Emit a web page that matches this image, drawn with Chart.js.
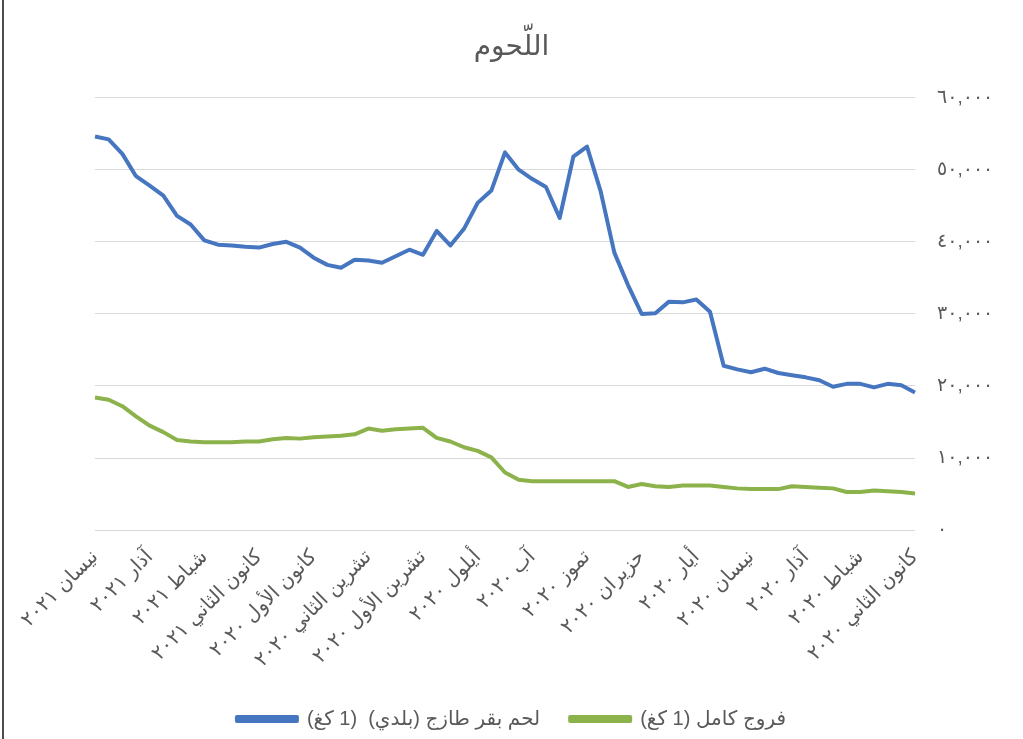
<!DOCTYPE html>
<html lang="ar">
<head>
<meta charset="utf-8">
<script src="https://cdn.jsdelivr.net/npm/chart.js"></script>
<style>
  body{margin:0;background:#fff;}
  #wrap{position:relative;width:1023px;height:739px;}
  #edge{position:absolute;left:2px;top:0;width:2px;height:739px;background:#4a4f4a;}
  canvas{display:block;}
</style>
</head>
<body>
<div id="wrap">
  <canvas id="grafico" width="1023" height="739"></canvas>
  <div id="edge"></div>
</div>
<script>
// months shown on the axis, oldest first (axis is reversed, right to left)
const months = [
  'كانون الثاني ٢٠٢٠','شباط ٢٠٢٠','آذار ٢٠٢٠','نيسان ٢٠٢٠','أيار ٢٠٢٠','حزيران ٢٠٢٠',
  'تموز ٢٠٢٠','آب ٢٠٢٠','أيلول ٢٠٢٠','تشرين الأول ٢٠٢٠','تشرين الثاني ٢٠٢٠','كانون الأول ٢٠٢٠',
  'كانون الثاني ٢٠٢١','شباط ٢٠٢١','آذار ٢٠٢١','نيسان ٢٠٢١'
];
const perMonth = 4; // readings between two month labels

// لحم بقر طازج (بلدي) - oldest first
const beef = [
  19100,20100,20300,19800,20300,20300,19900,20800,21200,21500,
  21800,22400,21900,22300,22800,30300,32000,31600,31700,30100,
  30000,34000,38500,47000,53200,51800,43300,47600,48700,50000,
  52400,47100,45400,41800,39500,41500,38200,38900,38000,37100,
  37400,37500,36400,36800,37800,39200,40000,39700,39200,39300,
  39500,39600,40200,42400,43600,46400,47800,49100,52200,54200,
  54600
];
// فروج كامل - oldest first
const chicken = [
  5100,5300,5400,5500,5300,5300,5800,5900,6000,6100,
  5700,5700,5700,5800,6000,6200,6200,6200,6000,6100,
  6400,6000,6800,6800,6800,6800,6800,6800,6800,7000,
  8000,10100,11000,11500,12300,12800,14200,14100,14000,13800,
  14100,13300,13100,13000,12900,12700,12800,12600,12300,12300,
  12200,12200,12200,12300,12500,13600,14500,15800,17200,18100,
  18400
];
const yTicks = ['٠','١٠,٠٠٠','٢٠,٠٠٠','٣٠,٠٠٠','٤٠,٠٠٠','٥٠,٠٠٠','٦٠,٠٠٠'];

const labels = beef.map((v,i)=> i%perMonth===0 ? months[i/perMonth] : '');

const FONT = "'Liberation Sans','DejaVu Sans',sans-serif";
const GREY = '#595959';

new Chart(grafico, {
  type:'line',
  data:{
    labels,
    datasets:[
      {
        label:'لحم بقر طازج (بلدي)  (1 كغ)',
        data:beef,
        borderColor:'#4776c0',
        backgroundColor:'#4776c0',
        borderWidth:4,
        pointRadius:0,
        borderJoinStyle:'round',
        tension:0
      },
      {
        label:'فروج كامل (1 كغ)',
        data:chicken,
        borderColor:'#8cb24c',
        backgroundColor:'#8cb24c',
        borderWidth:4,
        pointRadius:0,
        borderJoinStyle:'round',
        tension:0
      }
    ]
  },
  options:{
    responsive:false,
    animation:false,
    layout:{padding:{top:30,right:0,bottom:0,left:0}},
    plugins:{
      title:{
        display:true,
        text:'اللّحوم',
        color:GREY,
        font:{family:FONT,size:28,weight:'normal'},
        padding:{top:0,bottom:34}
      },
      legend:{
        position:'bottom',
        textDirection:'rtl',
        labels:{
          color:GREY,
          font:{family:FONT,size:20},
          boxWidth:60,
          boxHeight:4,
          padding:30
        }
      },
      tooltip:{enabled:false}
    },
    scales:{
      x:{
        reverse:true,
        grid:{display:false},
        border:{display:false},
        ticks:{
          autoSkip:false,
          minRotation:45,
          maxRotation:45,
          color:GREY,
          font:{family:FONT,size:20},
          padding:7
        }
      },
      y:{
        position:'right',
        min:0,
        max:60000,
        grid:{color:'#d9d9d9',drawTicks:false,lineWidth:1},
        border:{display:false},
        afterFit:s=>{s.width=108;},
        ticks:{
          stepSize:10000,
          color:GREY,
          font:{family:FONT,size:19},
          padding:22,
          callback:v=>yTicks[v/10000]
        }
      },
      // empty spacer on the left so the title stays centred on the page
      spacer:{
        position:'left',
        grid:{display:false},
        border:{display:false},
        ticks:{display:false},
        afterFit:s=>{s.width=95;}
      }
    }
  }
});
</script>
</body>
</html>
